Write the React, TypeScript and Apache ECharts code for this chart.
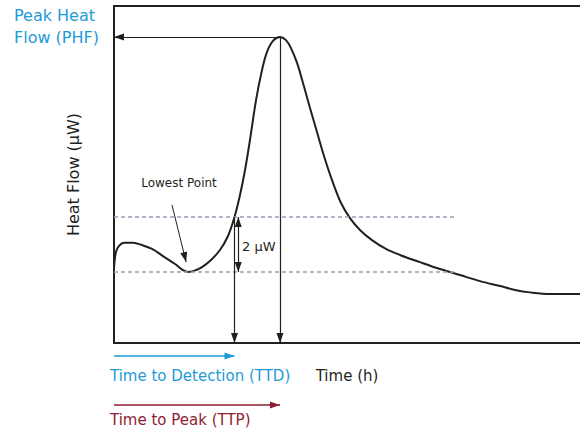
import React, { useEffect, useRef } from "react";
import * as echarts from "echarts";

// Heat-flow curve (time in h, heat flow in µW)
const timeH = [
  0, 0.21, 0.54, 1.07, 2.04, 3.0, 4.08, 5.26, 6.55, 7.4, 7.94, 8.58, 9.44, 10.41,
  11.37, 12.23, 12.93, 13.52, 14.06, 14.59, 15.24, 15.88, 16.42, 17.06, 17.81,
  18.45, 18.99, 19.64, 20.28, 21.03, 21.78, 22.53, 23.5, 24.36, 25.32, 26.39,
  27.68, 29.18, 30.69, 32.83, 34.98, 37.12, 39.27, 41.42, 43.03, 44.64, 46.78, 50,
];
const heatFlow = [
  2.72, 3.31, 3.53, 3.64, 3.64, 3.56, 3.42, 3.16, 2.87, 2.65, 2.58, 2.62, 2.76, 3.02,
  3.38, 3.89, 4.58, 5.38, 6.29, 7.38, 8.83, 9.92, 10.58, 10.98, 11.12,
  11.01, 10.72, 10.18, 9.45, 8.54, 7.67, 6.8, 5.82, 5.09, 4.54, 4.11,
  3.74, 3.42, 3.2, 2.94, 2.69, 2.47, 2.25, 2.07, 1.93, 1.84, 1.78, 1.78,
];

const X_MAX = 50;
const Y_MAX = 12.25;
const DETECTION_DELTA = 2; // µW above lowest point
const THRESHOLD_END = 36.8; // h, where the dashed reference lines stop

const labels = {
  phf: "Peak Heat\nFlow (PHF)",
  yName: "Heat Flow (µW)",
  xName: "Time (h)",
  ttd: "Time to Detection (TTD)",
  ttp: "Time to Peak (TTP)",
  lowest: "Lowest Point",
  delta: "2 µW",
};

const INK = "#231f20";
const BLUE = "#1f9ad6";
const RED = "#8e1e30";
const DASH = "#9c9db4";
const FONT = "DejaVu Sans";

export default function App() {
  const ref = useRef<HTMLDivElement>(null);

  useEffect(() => {
    if (!ref.current) return;
    const chart = echarts.init(ref.current, undefined, { renderer: "svg" });

    const points = timeH.map((t, i) => [t, heatFlow[i]]);
    // Peak
    let peakIdx = 0;
    heatFlow.forEach((v, i) => {
      if (v > heatFlow[peakIdx]) peakIdx = i;
    });
    const PHF = heatFlow[peakIdx];
    const TTP = timeH[peakIdx];
    // Lowest point before the peak
    let lowIdx = 0;
    for (let i = 0; i < peakIdx; i++) if (heatFlow[i] < heatFlow[lowIdx]) lowIdx = i;
    const LOW = heatFlow[lowIdx];
    const LOW_T = timeH[lowIdx];
    const THRESH = LOW + DETECTION_DELTA;
    // Time to detection: first crossing of threshold after lowest point
    let TTD = TTP;
    for (let i = lowIdx; i < peakIdx; i++) {
      if (heatFlow[i] <= THRESH && heatFlow[i + 1] >= THRESH) {
        const f = (THRESH - heatFlow[i]) / (heatFlow[i + 1] - heatFlow[i]);
        TTD = timeH[i] + f * (timeH[i + 1] - timeH[i]);
        break;
      }
    }
    const DELTA_X = TTD + 0.4;

    const arrowLine = (color: string, width = 1.2) => ({
      lineStyle: { color, width, type: "solid" },
    });
    const tip = { symbol: "triangle", symbolSize: [7, 10], symbolOffset: [0, 5] };
    const none = { symbol: "none" };

    const axisLineStyle = { show: true, onZero: false, lineStyle: { color: INK, width: 2 } };

    const option: any = {
      animation: false,
      textStyle: { fontFamily: FONT },
      grid: [
        { left: 114, top: 6, width: 466, height: 337 },
        { left: 114, top: 345, width: 466, height: 70 },
      ],
      xAxis: [
        {
          gridIndex: 0,
          type: "value",
          min: 0,
          max: X_MAX,
          position: "bottom",
          axisLine: axisLineStyle,
          axisTick: { show: false },
          axisLabel: { show: false },
          splitLine: { show: false },
          name: labels.xName,
          nameLocation: "middle",
          nameGap: 25,
          nameTextStyle: { color: INK, fontSize: 15, fontFamily: FONT },
        },
        {
          gridIndex: 0,
          type: "value",
          min: 0,
          max: X_MAX,
          position: "top",
          axisLine: axisLineStyle,
          axisTick: { show: false },
          axisLabel: { show: false },
          splitLine: { show: false },
        },
        { gridIndex: 1, type: "value", min: 0, max: X_MAX, show: false },
      ],
      yAxis: [
        {
          gridIndex: 0,
          type: "value",
          min: 0,
          max: Y_MAX,
          axisLine: axisLineStyle,
          axisTick: { show: false },
          axisLabel: { show: false },
          splitLine: { show: false },
          name: labels.yName,
          nameLocation: "middle",
          nameGap: 33,
          nameRotate: 90,
          nameTextStyle: { color: INK, fontSize: 16, fontFamily: FONT },
        },
        { gridIndex: 1, type: "value", min: 0, max: 70, inverse: true, show: false },
      ],
      series: [
        {
          type: "line",
          xAxisIndex: 0,
          yAxisIndex: 0,
          data: points,
          smooth: 0.35,
          showSymbol: false,
          silent: true,
          lineStyle: { color: INK, width: 2 },
          markLine: {
            silent: true,
            label: { show: false },
            emphasis: { disabled: true },
            data: [
              // threshold dashed lines
              [
                { coord: [0, THRESH], ...none, lineStyle: { color: DASH, width: 1.5, type: [4, 3] } },
                { coord: [THRESHOLD_END, THRESH], ...none },
              ],
              [
                { coord: [0, LOW], ...none, lineStyle: { color: DASH, width: 1.5, type: [4, 3] } },
                { coord: [THRESHOLD_END, LOW], ...none },
              ],
              // PHF horizontal arrow to axis
              [
                { coord: [TTP, PHF], ...none, ...arrowLine(INK) },
                { coord: [0, PHF], ...tip },
              ],
              // TTP vertical arrow
              [
                { coord: [TTP, PHF], ...none, ...arrowLine(INK) },
                { coord: [TTP, 0], ...tip },
              ],
              // TTD vertical arrow
              [
                { coord: [TTD, THRESH], ...none, ...arrowLine(INK) },
                { coord: [TTD, 0], ...tip },
              ],
              // 2 µW double arrow
              [
                { coord: [DELTA_X, LOW], ...tip, ...arrowLine(INK) },
                { coord: [DELTA_X, THRESH], ...tip },
              ],
              // Lowest point pointer
              [
                { coord: [LOW_T - 1.72, LOW + 2.44], ...none, ...arrowLine(INK, 1) },
                { coord: [LOW_T - 0.2, LOW + 0.36], ...tip },
              ],
            ],
          },
        },
        {
          type: "line",
          xAxisIndex: 2,
          yAxisIndex: 1,
          data: [],
          silent: true,
          showSymbol: false,
          markLine: {
            silent: true,
            label: { show: false },
            emphasis: { disabled: true },
            data: [
              [
                { coord: [0, 11], ...none, ...arrowLine(BLUE, 1.5) },
                { coord: [TTD, 11], ...tip },
              ],
              [
                { coord: [0, 60], ...none, ...arrowLine(RED, 1.5) },
                { coord: [TTP, 60], ...tip },
              ],
            ],
          },
        },
      ],
      graphic: [
        {
          type: "text",
          left: 14,
          top: 4,
          style: {
            text: labels.phf,
            fill: BLUE,
            font: `16px ${FONT}`,
            lineHeight: 22,
          },
        },
        {
          type: "text",
          x: 179,
          y: 183,
          style: {
            text: labels.lowest,
            fill: INK,
            font: `12px ${FONT}`,
            textAlign: "center",
            textVerticalAlign: "middle",
          },
        },
        {
          type: "text",
          x: 242,
          y: 246,
          style: {
            text: labels.delta,
            fill: INK,
            font: `13px ${FONT}`,
            textAlign: "left",
            textVerticalAlign: "middle",
          },
        },
        {
          type: "text",
          x: 110,
          y: 376,
          style: {
            text: labels.ttd,
            fill: BLUE,
            font: `15px ${FONT}`,
            textAlign: "left",
            textVerticalAlign: "middle",
          },
        },
        {
          type: "text",
          x: 110,
          y: 420,
          style: {
            text: labels.ttp,
            fill: RED,
            font: `15px ${FONT}`,
            textAlign: "left",
            textVerticalAlign: "middle",
          },
        },
      ],
    };

    chart.setOption(option);
    return () => chart.dispose();
  }, []);

  return (
    <div
      ref={ref}
      style={{ position: "fixed", left: 0, top: 0, width: 580, height: 432, background: "#fff" }}
    />
  );
}
